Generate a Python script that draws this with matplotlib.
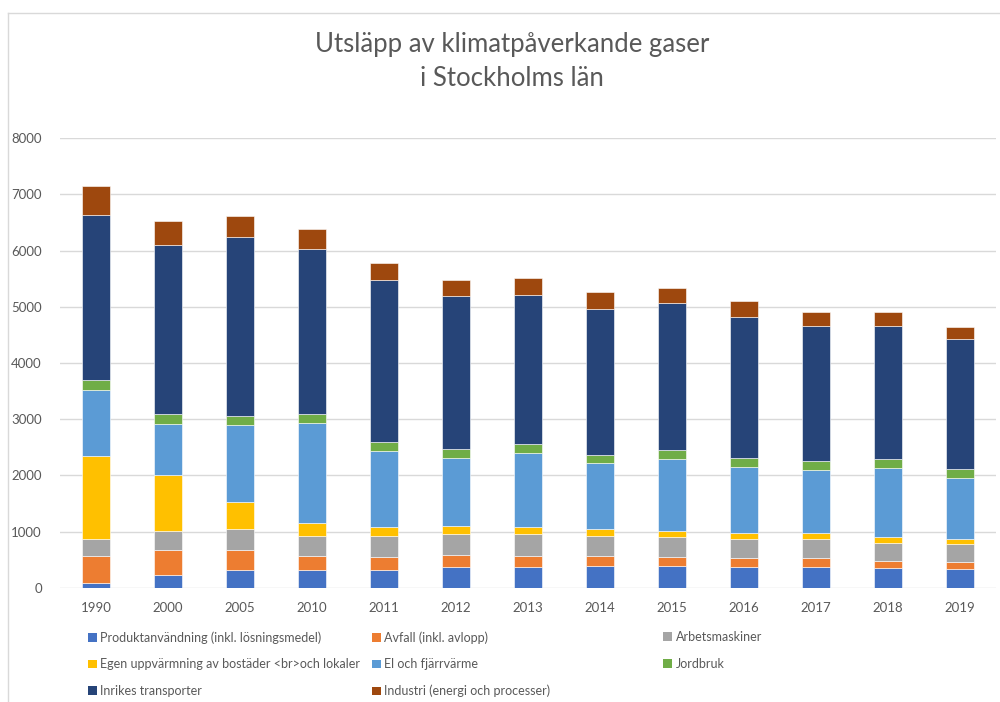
import numpy as np
import matplotlib.pyplot as plt
from matplotlib.patches import Patch
from matplotlib.lines import Line2D

years = ['1990', '2000', '2005', '2010', '2011', '2012', '2013',
         '2014', '2015', '2016', '2017', '2018', '2019']

produkt = [80, 237, 326, 326, 312, 368, 368, 386, 386, 380, 380, 350, 344]
avfall = [496, 445, 356, 250, 231, 220, 202, 178, 160, 160, 154, 137, 125]
arbets = [302, 333, 374, 350, 374, 367, 385, 368, 362, 338, 344, 320, 320]
egen = [1466, 991, 481, 225, 163, 155, 125, 118, 113, 95, 95, 101, 89]
el = [1175, 902, 1353, 1787, 1356, 1210, 1318, 1164, 1270, 1175, 1122, 1223, 1075]
jord = [178, 184, 172, 154, 163, 149, 154, 148, 160, 155, 160, 154, 154]
inrikes = [2938, 3003, 3181, 2932, 2879, 2724, 2659, 2599, 2617, 2510, 2404, 2374, 2320]
industri = [516, 433, 368, 350, 299, 279, 296, 297, 267, 297, 243, 243, 208]

series = [
    ('Produktanvändning (inkl. lösningsmedel)', produkt, '#4472C4'),
    ('Avfall (inkl. avlopp)', avfall, '#ED7D31'),
    ('Arbetsmaskiner', arbets, '#A5A5A5'),
    ('Egen uppvärmning av bostäder <br>och lokaler', egen, '#FFC000'),
    ('El och fjärrvärme', el, '#5B9BD5'),
    ('Jordbruk', jord, '#70AD47'),
    ('Inrikes transporter', inrikes, '#264478'),
    ('Industri (energi och processer)', industri, '#9E480E'),
]

plt.rcParams['font.family'] = ['Lato', 'DejaVu Sans']
txt = '#595959'

fig = plt.figure(figsize=(10, 7.02), dpi=100)
ax = fig.add_axes([0.06, 0.1624, 0.936, 0.641])

x = np.arange(len(years))
bottom = np.zeros(len(years))
for name, vals, col in series:
    ax.bar(x, vals, 0.4, bottom=bottom, color=col, edgecolor='white',
           linewidth=0.4, label=name, zorder=3)
    bottom += np.array(vals)

ax.set_xlim(-0.5, len(years) - 0.5)
ax.set_ylim(0, 8000)
ax.set_yticks(range(0, 8001, 1000))
ax.set_xticks(x)
ax.set_xticklabels(years)
ax.grid(axis='y', color='#D9D9D9', linewidth=1, zorder=0)
for s in ax.spines.values():
    s.set_visible(False)
ax.tick_params(length=0, colors=txt, labelsize=9.5)
ax.tick_params(axis='y', pad=13)
ax.tick_params(axis='x', pad=10)

fig.text(0.512, 0.913, 'Utsläpp av klimatpåverkande gaser\ni Stockholms län',
         ha='center', va='center', fontsize=18.5, color=txt, linespacing=1.45)

# legend: three columns like Excel
handles = [Patch(facecolor=c) for _, _, c in series]
names = [n for n, _, _ in series]
cols = [[0, 3, 6], [1, 4, 7], [2, 5]]
xs = [0.088, 0.372, 0.663]
for xi, idx in zip(xs, cols):
    leg = fig.legend([handles[i] for i in idx], [names[i] for i in idx],
                     loc='upper left', bbox_to_anchor=(xi, 0.101),
                     frameon=False, fontsize=9, handlelength=0.7,
                     handleheight=0.7, handletextpad=0.3, labelspacing=1.17,
                     borderaxespad=0, borderpad=0, labelcolor=txt)

# chart border
fig.add_artist(Line2D([0.008, 0.008], [0, 0.9815], color='#D9D9D9', lw=1))
fig.add_artist(Line2D([0.008, 1], [0.9815, 0.9815], color='#D9D9D9', lw=1))

plt.savefig('out.png', dpi=100)
